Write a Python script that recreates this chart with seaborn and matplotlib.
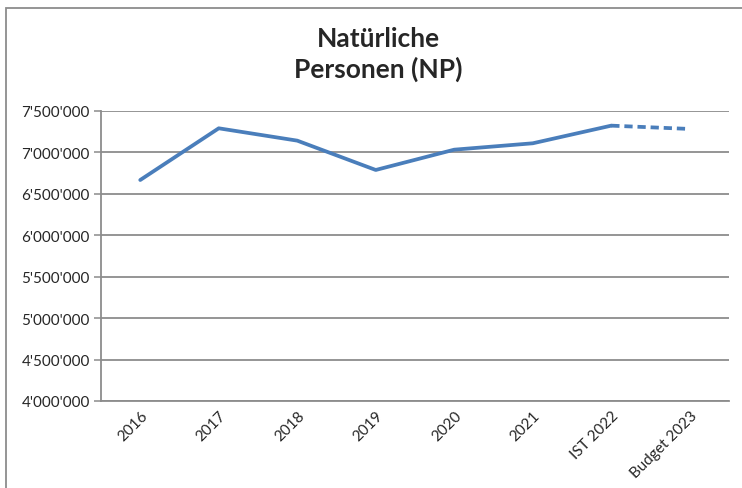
import pandas as pd
import seaborn as sns
import matplotlib.pyplot as plt
from matplotlib.patches import Rectangle
from matplotlib.ticker import FuncFormatter, MultipleLocator

categories = ["2016", "2017", "2018", "2019", "2020", "2021", "IST 2022", "Budget 2023"]
values = [6667000, 7291000, 7142000, 6788000, 7033000, 7110000, 7323000, 7283000]

df = pd.DataFrame({"pos": range(len(categories)), "value": values, "label": categories})
actual = df.iloc[:7]
budget = df.iloc[6:]

sns.set_style("white")
plt.rcParams['font.family'] = ['Lato', 'DejaVu Sans']

fig = plt.figure(figsize=(7.42, 4.89), dpi=100)
ax = fig.add_axes([0.1361, 0.178, 0.8464, 0.593])

blue = "#4A7EBB"
sns.lineplot(data=actual, x="pos", y="value", ax=ax, color=blue, linewidth=2.7)
sns.lineplot(data=budget, x="pos", y="value", ax=ax, color=blue, linewidth=2.7,
             linestyle=(0, (2.2, 1.3)))

ax.set_xlim(-0.5, len(categories) - 0.5)
ax.set_ylim(4000000, 7500000)
ax.yaxis.set_major_locator(MultipleLocator(500000))
ax.yaxis.set_major_formatter(FuncFormatter(lambda v, p: f"{int(v):,}".replace(",", "'")))
ax.grid(axis="y", color="#8C8C8C", linewidth=1.3)
ax.set_axisbelow(True)

ax.set_xticks(range(len(categories)))
ax.set_xticklabels(categories, rotation=45, ha="right", rotation_mode="anchor", fontsize=11)
ax.set_xticks([i - 0.5 for i in range(len(categories) + 1)], minor=True)
ax.tick_params(axis="x", which="major", length=0, pad=5)
ax.tick_params(axis="x", which="minor", length=5, color="#8C8C8C", width=1.1)
ax.tick_params(axis="y", length=5, color="#8C8C8C", width=1.1, labelsize=11, left=True, pad=3)
ax.set_xlabel("")
ax.set_ylabel("")

for side in ["top", "right"]:
    ax.spines[side].set_visible(False)
for side in ["left", "bottom"]:
    ax.spines[side].set_color("#8C8C8C")
    ax.spines[side].set_linewidth(1.3)

fig.text(0.51, 0.945, "Natürliche\nPersonen (NP)", ha="center", va="top",
         fontsize=19, fontweight="bold", linespacing=1.25)

fig.patches.append(Rectangle((0.0081, -0.05), 1.2, 1.0316, transform=fig.transFigure,
                             fill=False, edgecolor="#8C8C8C", linewidth=1.3))

fig.savefig("out.png", dpi=100)
